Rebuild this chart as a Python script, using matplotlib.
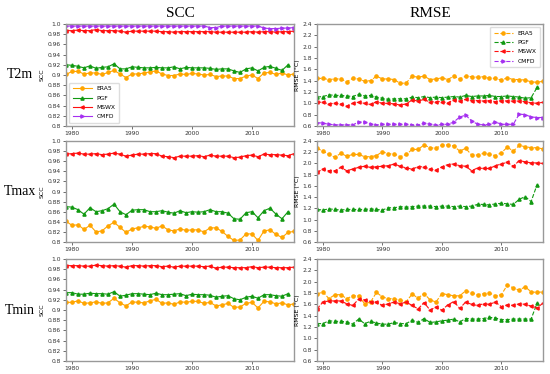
import matplotlib
matplotlib.use("Agg")
import matplotlib.pyplot as plt
from matplotlib.ticker import FixedLocator, FixedFormatter

years = list(range(1979, 2018))
years_pgf = list(range(1979, 2017))

# ---- T2m SCC ----
t2m_scc_era5 = [0.901, 0.907, 0.907, 0.902, 0.904, 0.904, 0.901, 0.905, 0.909, 0.902,
                0.895, 0.902, 0.902, 0.904, 0.906, 0.908, 0.902, 0.899, 0.899, 0.902,
                0.901, 0.903, 0.902, 0.900, 0.901, 0.897, 0.898, 0.898, 0.893, 0.893,
                0.898, 0.900, 0.893, 0.904, 0.905, 0.901, 0.904, 0.900, 0.902]
t2m_scc_pgf = [0.920, 0.919, 0.917, 0.914, 0.918, 0.913, 0.915, 0.916, 0.922, 0.912,
               0.912, 0.916, 0.915, 0.914, 0.914, 0.915, 0.914, 0.914, 0.916, 0.912,
               0.915, 0.914, 0.914, 0.914, 0.913, 0.911, 0.912, 0.912, 0.908, 0.905,
               0.912, 0.914, 0.908, 0.915, 0.917, 0.913, 0.909, 0.920]
t2m_scc_mswx = [0.987, 0.987, 0.988, 0.987, 0.987, 0.989, 0.987, 0.987, 0.987, 0.986,
                0.984, 0.986, 0.986, 0.986, 0.986, 0.986, 0.985, 0.985, 0.984, 0.985,
                0.985, 0.985, 0.985, 0.985, 0.985, 0.984, 0.984, 0.984, 0.984, 0.984,
                0.984, 0.985, 0.984, 0.985, 0.985, 0.984, 0.985, 0.985, 0.986]
t2m_scc_cmfd = [0.996, 0.996, 0.996, 0.996, 0.996, 0.996, 0.996, 0.996, 0.996, 0.996,
                0.996, 0.996, 0.996, 0.996, 0.996, 0.996, 0.996, 0.996, 0.996, 0.996,
                0.996, 0.996, 0.996, 0.996, 0.993, 0.993, 0.996, 0.996, 0.996, 0.996,
                0.996, 0.996, 0.996, 0.992, 0.991, 0.991, 0.992, 0.992, 0.993]

# ---- T2m RMSE ----
t2m_rmse_era5 = [1.44, 1.44, 1.42, 1.43, 1.43, 1.38, 1.44, 1.43, 1.39, 1.40,
                 1.48, 1.43, 1.43, 1.42, 1.35, 1.36, 1.48, 1.46, 1.48, 1.42,
                 1.43, 1.45, 1.42, 1.48, 1.43, 1.48, 1.47, 1.46, 1.47, 1.44,
                 1.44, 1.41, 1.45, 1.42, 1.42, 1.41, 1.38, 1.37, 1.39]
t2m_rmse_pgf = [1.11, 1.12, 1.15, 1.14, 1.14, 1.13, 1.12, 1.16, 1.13, 1.14,
                1.11, 1.09, 1.07, 1.08, 1.08, 1.08, 1.11, 1.10, 1.12, 1.10,
                1.11, 1.10, 1.11, 1.12, 1.11, 1.14, 1.12, 1.13, 1.13, 1.14,
                1.12, 1.12, 1.13, 1.12, 1.11, 1.09, 1.10, 1.28]
t2m_rmse_mswx = [1.02, 1.02, 0.99, 1.00, 0.99, 0.95, 1.00, 1.02, 1.00, 0.98,
                 1.03, 1.00, 1.00, 0.99, 0.97, 0.99, 1.06, 1.04, 1.07, 1.02,
                 1.03, 1.03, 1.01, 1.06, 1.04, 1.07, 1.05, 1.05, 1.04, 1.05,
                 1.03, 1.05, 1.04, 1.04, 1.04, 1.03, 1.01, 1.00, 1.02]
t2m_rmse_cmfd = [0.66, 0.65, 0.63, 0.62, 0.62, 0.62, 0.62, 0.67, 0.67, 0.63,
                 0.62, 0.63, 0.63, 0.63, 0.63, 0.63, 0.62, 0.62, 0.65, 0.63,
                 0.61, 0.63, 0.63, 0.67, 0.76, 0.79, 0.69, 0.63, 0.62, 0.63,
                 0.67, 0.63, 0.63, 0.63, 0.81, 0.80, 0.76, 0.75, 0.75]

# ---- Tmax SCC ----
tmax_scc_era5 = [0.841, 0.833, 0.834, 0.825, 0.833, 0.820, 0.822, 0.832, 0.839, 0.829,
                 0.819, 0.826, 0.828, 0.831, 0.830, 0.827, 0.832, 0.824, 0.822, 0.826,
                 0.823, 0.824, 0.824, 0.820, 0.828, 0.828, 0.821, 0.811, 0.803, 0.804,
                 0.816, 0.816, 0.803, 0.822, 0.824, 0.815, 0.809, 0.819, 0.821]
tmax_scc_pgf = [0.870, 0.869, 0.864, 0.855, 0.868, 0.860, 0.862, 0.866, 0.875, 0.860,
                0.854, 0.863, 0.864, 0.864, 0.860, 0.860, 0.862, 0.859, 0.857, 0.862,
                0.858, 0.860, 0.859, 0.860, 0.864, 0.860, 0.860, 0.857, 0.846, 0.845,
                0.858, 0.860, 0.848, 0.862, 0.867, 0.855, 0.846, 0.860]
tmax_scc_mswx = [0.974, 0.975, 0.976, 0.974, 0.974, 0.975, 0.973, 0.974, 0.976, 0.974,
                 0.970, 0.972, 0.974, 0.974, 0.975, 0.975, 0.970, 0.969, 0.967, 0.970,
                 0.970, 0.970, 0.971, 0.969, 0.972, 0.970, 0.970, 0.970, 0.967, 0.968,
                 0.971, 0.972, 0.969, 0.974, 0.973, 0.973, 0.972, 0.971, 0.975]

# ---- Tmax RMSE ----
tmax_rmse_era5 = [2.27, 2.22, 2.16, 2.11, 2.18, 2.13, 2.16, 2.16, 2.12, 2.12,
                  2.14, 2.21, 2.17, 2.17, 2.12, 2.16, 2.25, 2.25, 2.33, 2.28,
                  2.27, 2.33, 2.33, 2.31, 2.22, 2.27, 2.15, 2.15, 2.18, 2.16,
                  2.14, 2.19, 2.29, 2.22, 2.32, 2.30, 2.28, 2.28, 2.26]
tmax_rmse_pgf = [1.18, 1.17, 1.19, 1.18, 1.17, 1.18, 1.18, 1.18, 1.18, 1.19,
                 1.18, 1.17, 1.21, 1.21, 1.23, 1.22, 1.23, 1.24, 1.24, 1.24,
                 1.23, 1.24, 1.24, 1.23, 1.24, 1.23, 1.24, 1.27, 1.27, 1.26,
                 1.28, 1.29, 1.28, 1.27, 1.36, 1.41, 1.32, 1.62]
tmax_rmse_mswx = [1.84, 1.90, 1.87, 1.87, 1.93, 1.87, 1.90, 1.93, 1.95, 1.93,
                  1.94, 1.95, 1.96, 1.99, 1.95, 1.92, 1.90, 1.94, 1.94, 1.90,
                  1.88, 1.94, 1.98, 1.99, 1.96, 1.95, 1.87, 1.92, 1.91, 1.91,
                  1.96, 1.99, 2.02, 1.95, 2.05, 2.03, 2.01, 2.01, 2.00]

# ---- Tmin SCC ----
tmin_scc_era5 = [0.915, 0.915, 0.918, 0.913, 0.914, 0.916, 0.913, 0.914, 0.923, 0.914,
                 0.908, 0.916, 0.915, 0.914, 0.918, 0.921, 0.913, 0.914, 0.911, 0.916,
                 0.915, 0.917, 0.917, 0.913, 0.915, 0.908, 0.910, 0.913, 0.905, 0.906,
                 0.913, 0.915, 0.904, 0.917, 0.916, 0.912, 0.914, 0.910, 0.912]
tmin_scc_pgf = [0.934, 0.934, 0.931, 0.931, 0.933, 0.932, 0.932, 0.931, 0.936, 0.927,
                0.929, 0.932, 0.932, 0.931, 0.930, 0.933, 0.930, 0.930, 0.931, 0.932,
                0.928, 0.931, 0.930, 0.930, 0.929, 0.925, 0.927, 0.928, 0.922, 0.920,
                0.925, 0.927, 0.923, 0.930, 0.930, 0.928, 0.927, 0.932]
tmin_scc_mswx = [0.987, 0.987, 0.987, 0.986, 0.986, 0.988, 0.987, 0.986, 0.987, 0.986,
                 0.984, 0.987, 0.987, 0.986, 0.987, 0.987, 0.985, 0.986, 0.984, 0.986,
                 0.986, 0.986, 0.986, 0.985, 0.986, 0.982, 0.984, 0.984, 0.983, 0.983,
                 0.983, 0.985, 0.983, 0.984, 0.984, 0.983, 0.983, 0.983, 0.984]

# ---- Tmin RMSE ----
tmin_rmse_era5 = [1.78, 1.82, 1.70, 1.77, 1.77, 1.70, 1.75, 1.75, 1.61, 1.64,
                  1.81, 1.73, 1.70, 1.70, 1.67, 1.65, 1.78, 1.71, 1.79, 1.68,
                  1.64, 1.79, 1.77, 1.75, 1.75, 1.84, 1.80, 1.77, 1.79, 1.80,
                  1.75, 1.77, 1.94, 1.89, 1.85, 1.91, 1.82, 1.81, 1.82]
tmin_rmse_pgf = [1.26, 1.26, 1.31, 1.30, 1.30, 1.29, 1.25, 1.34, 1.26, 1.30,
                 1.27, 1.25, 1.25, 1.28, 1.26, 1.26, 1.32, 1.28, 1.35, 1.28,
                 1.29, 1.31, 1.32, 1.34, 1.29, 1.35, 1.34, 1.34, 1.35, 1.37,
                 1.36, 1.33, 1.33, 1.34, 1.34, 1.34, 1.34, 1.62]
tmin_rmse_mswx = [1.52, 1.64, 1.66, 1.66, 1.66, 1.61, 1.58, 1.69, 1.68, 1.65,
                  1.64, 1.58, 1.61, 1.64, 1.61, 1.64, 1.58, 1.52, 1.63, 1.50,
                  1.55, 1.50, 1.59, 1.65, 1.53, 1.64, 1.60, 1.58, 1.61, 1.60,
                  1.64, 1.56, 1.59, 1.58, 1.61, 1.60, 1.57, 1.54, 1.62]

col_titles = ["SCC", "RMSE"]
row_titles = ["T2m", "Tmax", "Tmin"]
labels = ["ERA5", "PGF", "MSWX", "CMFD"]
scc_ticks = [0.8, 0.82, 0.84, 0.86, 0.88, 0.9, 0.92, 0.94, 0.96, 0.98, 1.0]
scc_ticklabels = ["0.8", "0.82", "0.84", "0.86", "0.88", "0.9", "0.92", "0.94", "0.96", "0.98", "1.0"]
rmse_ticks = [0.6, 0.8, 1.0, 1.2, 1.4, 1.6, 1.8, 2.0, 2.2, 2.4]
rmse_ticklabels = ["0.6", "0.8", "1.0", "1.2", "1.4", "1.6", "1.8", "2.0", "2.2", "2.4"]
xticks = [1980, 1990, 2000, 2010]

colors = {"ERA5": "#FFA500", "PGF": "#119911", "MSWX": "#FF1010", "CMFD": "#A530F0"}
markers = {"ERA5": "o", "PGF": "^", "MSWX": "<", "CMFD": ">"}

panels = [
    [{"ERA5": t2m_scc_era5, "PGF": t2m_scc_pgf, "MSWX": t2m_scc_mswx, "CMFD": t2m_scc_cmfd},
     {"ERA5": t2m_rmse_era5, "PGF": t2m_rmse_pgf, "MSWX": t2m_rmse_mswx, "CMFD": t2m_rmse_cmfd}],
    [{"ERA5": tmax_scc_era5, "PGF": tmax_scc_pgf, "MSWX": tmax_scc_mswx},
     {"ERA5": tmax_rmse_era5, "PGF": tmax_rmse_pgf, "MSWX": tmax_rmse_mswx}],
    [{"ERA5": tmin_scc_era5, "PGF": tmin_scc_pgf, "MSWX": tmin_scc_mswx},
     {"ERA5": tmin_rmse_era5, "PGF": tmin_rmse_pgf, "MSWX": tmin_rmse_mswx}],
]

W, H = 550, 374
fig = plt.figure(figsize=(5.5, 3.74), dpi=100)
fig.patch.set_facecolor("white")

col_x = [(66, 294), (317, 543)]
row_y = [(24, 126), (141, 242), (259, 361)]

serif = ["Liberation Serif", "DejaVu Serif"]
tickfs = 4.3

for r in range(3):
    for c in range(2):
        x0, x1 = col_x[c]
        y0, y1 = row_y[r]
        ax = fig.add_axes([x0 / W, 1 - y1 / H, (x1 - x0) / W, (y1 - y0) / H])
        data = panels[r][c]
        ls = "-" if c == 0 else "--"
        for name in labels:
            if name not in data:
                continue
            vals = data[name]
            xs = years_pgf if name == "PGF" else years
            ax.plot(xs, vals, linestyle=ls, color=colors[name], marker=markers[name],
                    markersize=2.3, linewidth=0.8, label=name)
        ax.set_xlim(1979, 2017)
        ax.set_xticks(xticks)
        if c == 0:
            ax.set_ylim(0.8, 1.0)
            ax.yaxis.set_major_locator(FixedLocator(scc_ticks))
            ax.yaxis.set_major_formatter(FixedFormatter(scc_ticklabels))
            ax.set_ylabel("SCC", fontsize=4.5, labelpad=2)
        else:
            ax.set_ylim(0.6, 2.4)
            ax.yaxis.set_major_locator(FixedLocator(rmse_ticks))
            ax.yaxis.set_major_formatter(FixedFormatter(rmse_ticklabels))
            ax.set_ylabel("RMSE (\u00b0C)", fontsize=4.5, labelpad=2)
        ax.tick_params(labelsize=tickfs, length=2, width=0.5, pad=1.5, colors="#333333")
        for s in ax.spines.values():
            s.set_color("#999999")
            s.set_linewidth(1.0)
        if r == 0:
            ax.set_title(col_titles[c], fontsize=11, family=serif, pad=5)
            if c == 0:
                ax.legend(loc="lower left", fontsize=4.3, handlelength=3.2, markerscale=1.0,
                          frameon=True, framealpha=1, edgecolor="#dddddd", borderpad=0.6,
                          labelspacing=0.7)
            else:
                ax.legend(loc="upper right", fontsize=4.3, handlelength=3.2, markerscale=1.0,
                          frameon=True, framealpha=1, edgecolor="#dddddd", borderpad=0.6,
                          labelspacing=0.7)

for r, name in enumerate(row_titles):
    y0, y1 = row_y[r]
    fig.text(20 / W, 1 - ((y0 + y1) / 2) / H, name, fontsize=10, family=serif,
             ha="center", va="center")

fig.savefig("out.png", dpi=100, facecolor="white")
